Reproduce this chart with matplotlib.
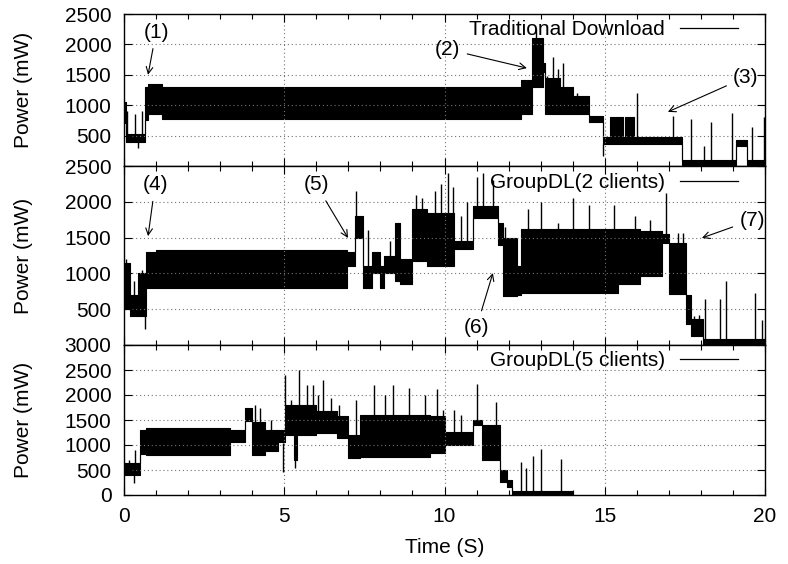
import numpy as np
import matplotlib
matplotlib.use('Agg')
from matplotlib import pyplot as plt
from matplotlib.lines import Line2D

plt.rcParams['font.family'] = ['Liberation Sans', 'DejaVu Sans']
plt.rcParams['font.size'] = 15

# panel 1: Traditional Download  (step envelope: start time, low, high)
t1 = [0, 0.05, 0.65, 0.75, 1.2, 12.4, 12.72, 13.07, 13.15, 13.6, 14.0, 14.5, 14.95,
      15.17, 15.57, 15.62, 15.9, 17.4, 19.1, 19.44, 20]
lo1 = [700, 400, 750, 850, 780, 850, 1300, 1550, 850, 850, 850, 720, 370,
       370, 370, 370, 370, 20, 330, 20, 20]
hi1 = [1050, 520, 1300, 1350, 1300, 1420, 2100, 1700, 1450, 1300, 1150, 820, 470,
       800, 470, 800, 470, 100, 420, 100, 100]
spk_t1 = [0.1, 0.35, 0.45, 0.55, 12.85, 13.19, 13.4, 13.55, 13.7, 14.12, 14.95, 16.0,
          17.13, 17.68, 18.1, 18.33, 18.96, 19.6, 19.98]
spk_v1 = [900, 850, 300, 900, 2250, 1480, 1790, 1600, 1700, 1200, 160, 1200,
          820, 770, 330, 720, 870, 640, 800]

# panel 2: GroupDL(2 clients)
t2 = [0, 0.2, 0.45, 0.7, 1.0, 6.95, 7.2, 7.46, 7.74, 8.0, 8.1, 8.45, 8.6, 9.0, 9.45,
      10.3, 10.9, 11.67, 11.83, 12.27, 12.4, 15.4, 16.1, 16.8, 17.0, 17.55, 17.7, 18.05, 20]
lo2 = [500, 400, 400, 800, 800, 1100, 1500, 800, 1000, 800, 1000, 900, 850, 1170, 1100,
       1340, 1780, 1400, 690, 700, 720, 850, 960, 1420, 710, 300, 125, 10, 10]
hi2 = [1150, 700, 1000, 1300, 1320, 1300, 1800, 1100, 1300, 1100, 1250, 1700, 1200, 1900, 1850,
       1450, 1940, 1700, 1500, 1100, 1620, 1620, 1590, 1550, 1420, 700, 360, 80, 80]
spk_t2 = [0.05, 0.3, 0.55, 0.65, 7.25, 7.6, 8.3, 9.1, 9.3, 9.7, 9.9, 10.1, 10.25, 10.5,
          10.7, 11.0, 11.2, 11.5, 11.9, 12.6, 13.0, 13.55, 14.0, 14.5, 15.3, 15.95, 16.4,
          16.9, 17.3, 17.45, 17.8, 17.95, 18.13, 18.6, 18.77, 19.69, 19.9]
spk_v2 = [1200, 900, 1050, 230, 2150, 1600, 1450, 2100, 2050, 2150, 2250, 2400, 2200, 1800,
          2000, 2350, 2400, 2300, 1650, 1900, 2000, 1700, 2050, 1950, 1950, 1800, 1750,
          2120, 1560, 1560, 400, 420, 640, 640, 890, 730, 350]

# panel 3: GroupDL(5 clients)
t3 = [0, 0.5, 0.7, 3.3, 3.77, 4.0, 4.4, 4.8, 5.02, 5.3, 5.4, 6.0, 6.65, 7.0, 7.36,
      9.55, 10.0, 10.9, 11.17, 11.73, 11.95, 12.1, 14.0]
lo3 = [400, 820, 800, 1050, 1470, 800, 870, 1050, 1200, 700, 1200, 1230, 1130, 730, 760,
       830, 1000, 1400, 700, 250, 150, 0, 0]
hi3 = [640, 1300, 1340, 1300, 1750, 1450, 1300, 1300, 1800, 1800, 1800, 1670, 1570, 1200, 1600,
       1570, 1250, 1500, 1400, 500, 300, 80, 80]
spk_t3 = [0.15, 0.3, 0.35, 4.1, 4.25, 4.6, 4.95, 5.02, 5.2, 5.35, 5.45, 5.7, 5.9, 6.05,
          6.2, 6.45, 6.7, 7.25, 7.8, 8.15, 8.4, 8.9, 9.4, 9.76, 9.95, 10.3, 10.5, 11.0,
          11.6, 12.4, 12.55, 12.77, 13.0, 13.65]
spk_v3 = [700, 250, 900, 1800, 1750, 1500, 470, 2400, 1900, 550, 2500, 2200, 2200, 2000,
          2300, 1950, 1800, 1900, 2200, 2000, 2200, 2150, 2000, 2130, 1700, 1700, 1600, 2230,
          1870, 670, 550, 780, 920, 730]

labels = ['Traditional Download', 'GroupDL(2 clients)', 'GroupDL(5 clients)']
ytop = [2500, 2500, 3000]

# (text, text_xy, arrow_xy) per panel
notes = [
    [('(1)', (1.0, 2200), (0.75, 1500)),
     ('(2)', (10.1, 1920), (12.57, 1610)),
     ('(3)', (19.4, 1460), (16.97, 890))],
    [('(4)', (0.97, 2235), (0.75, 1520)),
     ('(5)', (6.0, 2235), (6.99, 1495)),
     ('(6)', (11.0, 250), (11.51, 1005)),
     ('(7)', (19.6, 1745), (18.03, 1495))],
    [],
]

fig = plt.figure(figsize=(7.88, 5.64), dpi=100)
L, W = 124 / 788, 641 / 788
boxes = [(L, 1 - 166 / 564, W, 152 / 564),
         (L, 1 - 345 / 564, W, 179 / 564),
         (L, 1 - 495 / 564, W, 150 / 564)]

series = [(t1, lo1, hi1, spk_t1, spk_v1),
          (t2, lo2, hi2, spk_t2, spk_v2),
          (t3, lo3, hi3, spk_t3, spk_v3)]

for i, (t, lo, hi, st, sv) in enumerate(series):
    ax = fig.add_axes(boxes[i])
    t = np.array(t, float)
    lo = np.array(lo, float)
    hi = np.array(hi, float)
    ax.fill_between(t, lo, hi, step='post', color='k', lw=0.8)
    idx = np.clip(np.searchsorted(t, st, side='right') - 1, 0, len(t) - 1)
    sv = np.array(sv, float)
    base = np.where(sv > hi[idx], hi[idx], lo[idx])
    ax.vlines(st, base, sv, color='k', lw=1.0)

    ax.set_xlim(0, 20)
    ax.set_ylim(0, ytop[i])
    ax.set_xticks([0, 5, 10, 15, 20])
    ax.set_xticks(np.arange(0, 21, 1), minor=True)
    if i < 2:
        ax.set_yticks([500, 1000, 1500, 2000, 2500])
        ax.set_xticklabels([])
    else:
        ax.set_yticks([0, 500, 1000, 1500, 2000, 2500, 3000])
        ax.set_xlabel('Time (S)', labelpad=8)
    ax.tick_params(which='both', direction='in', top=True, right=True, labelsize=15)
    ax.tick_params(which='major', length=6, width=0.8)
    ax.tick_params(which='minor', length=3.5, width=0.8)
    ax.tick_params(axis='y', pad=9)
    ax.tick_params(axis='x', pad=9)
    ax.grid(True, which='major', color='0.45', lw=0.8, ls=(0, (1, 2.5)))
    ax.set_ylabel('Power (mW)')
    ax.yaxis.set_label_coords(-0.142, 0.5)
    for s in ax.spines.values():
        s.set_linewidth(1.0)

    ax.legend(handles=[Line2D([], [], color='k', lw=0.9, label=labels[i])],
              loc='upper right', bbox_to_anchor=(0.958, 0.96), frameon=False,
              markerfirst=False, handlelength=2.8, handletextpad=0.7,
              borderpad=0, borderaxespad=0, fontsize=15)

    for txt, xyt, xy in notes[i]:
        ax.annotate(txt, xy=xy, xytext=xyt, ha='center', va='center', fontsize=15,
                    arrowprops=dict(arrowstyle='->', color='k', lw=0.8,
                                    shrinkA=3, shrinkB=0, mutation_scale=12))

fig.savefig('out.png', dpi=100)
